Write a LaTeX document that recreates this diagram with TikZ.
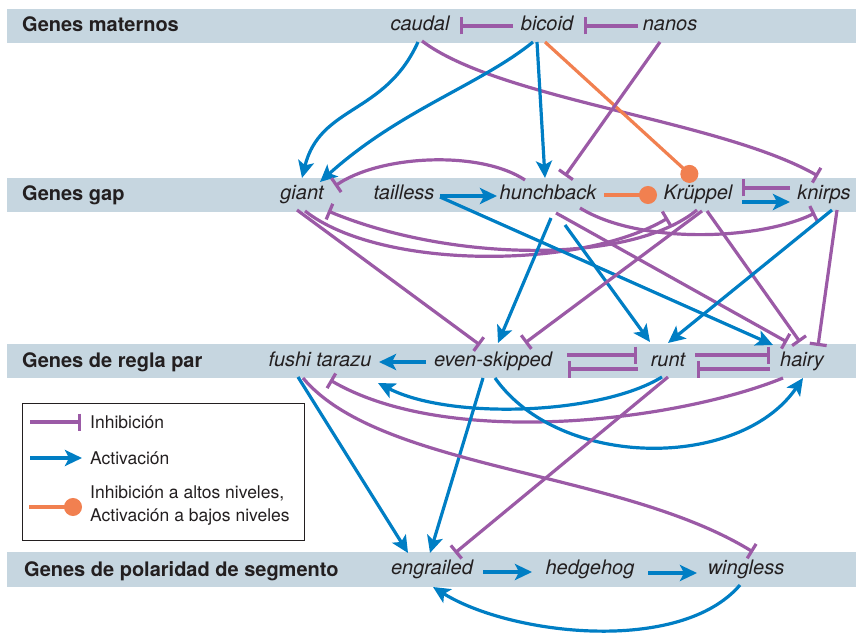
\documentclass[tikz,border=0pt]{standalone}
\usepackage{fontspec}
\setmainfont{TeX Gyre Heros}
\usetikzlibrary{arrows.meta}
\definecolor{inhcol}{RGB}{155,90,166}
\definecolor{actcol}{RGB}{0,126,196}
\definecolor{dualcol}{RGB}{241,128,80}
\definecolor{bandcol}{RGB}{198,214,224}
\definecolor{txtcol}{RGB}{35,31,32}
\begin{document}
\begin{tikzpicture}[x=1pt, y=-1pt,
    gene/.style={font=\fontsize{20}{24}\selectfont\itshape, text=txtcol, text height=14pt, text depth=4pt, inner sep=0pt},
    level/.style={font=\fontsize{20}{24}\selectfont\bfseries, text=txtcol, text height=15pt, text depth=3pt, inner sep=0pt, anchor=west},
    key/.style={font=\fontsize{17.5}{23}\selectfont, text=txtcol, inner sep=0pt, anchor=west, align=left},
    inh/.style={draw=inhcol, line width=3.2pt, -{Bar[width=17pt]}},
    act/.style={draw=actcol, line width=3.2pt, -{Stealth[length=17pt, width=16pt, inset=4pt]}},
    dual/.style={draw=dualcol, line width=3.2pt, -{Circle[length=18pt]}}]
    \useasboundingbox (0,0) rectangle (856,636);

    \fill[bandcol] (7,9) rectangle (856,43);
    \fill[bandcol] (7,178) rectangle (856,212);
    \fill[bandcol] (7,344) rectangle (856,378);
    \fill[bandcol] (7,552) rectangle (856,587);

    \node[level] (lmat) at (22,26) {Genes maternos};
    \node[level] (lgap) at (22,195) {Genes gap};
    \node[level] (lpar) at (22,361) {Genes de regla par};
    \node[level] (lseg) at (24,570) {Genes de polaridad de segmento};

    \node[gene] (cad) at (420,26) {caudal};
    \node[gene] (bcd) at (547,26) {bicoid};
    \node[gene] (nos) at (670,26) {nanos};
    \node[gene] (gt) at (302,195) {giant};
    \node[gene] (tll) at (404,195) {tailless};
    \node[gene] (hb) at (548,195) {hunchback};
    \node[gene] (kr) at (698,195) {Krüppel};
    \node[gene] (kni) at (824,195) {knirps};
    \node[gene] (ftz) at (320,361) {fushi tarazu};
    \node[gene] (eve) at (493,361) {even-skipped};
    \node[gene] (run) at (668,361) {runt};
    \node[gene] (h) at (802,361) {hairy};
    \node[gene] (en) at (432,569) {engrailed};
    \node[gene] (hh) at (590,569) {hedgehog};
    \node[gene] (wg) at (746,569) {wingless};

    \draw[inh] ([shift={(-34,0)}]bcd.center) -- ([shift={(40,0)}]cad.center);
    \draw[inh] ([shift={(-32,0)}]nos.center) -- ([shift={(37,0)}]bcd.center);
    \draw[act] ([shift={(-2,16)}]cad.center) .. controls +(-33,73) and +(18,-73) .. ([shift={(0,-17)}]gt.center);
    \draw[inh] ([shift={(2,15)}]cad.center) .. controls +(78,59) and +(-98,-56) .. ([shift={(-6,-19)}]kni.center);
    \draw[act] ([shift={(-14,16)}]bcd.center) .. controls +(-53,43) and +(80,-72) .. ([shift={(18,-13)}]gt.center);
    \draw[act] ([shift={(-10,16)}]bcd.center) -- ([shift={(-3,-17)}]hb.center);
    \draw[dual] ([shift={(-2,16)}]bcd.center) -- ([shift={(-2,-15)}]kr.center);
    \draw[inh] ([shift={(-10,16)}]nos.center) -- ([shift={(17,-19)}]hb.center);

    \draw[act] ([shift={(36,1)}]tll.center) -- ([shift={(-51,1)}]hb.center);
    \draw[dual] ([shift={(56,0)}]hb.center) -- ([shift={(-41,0)}]kr.center);
    \draw[inh] ([shift={(-34,-7)}]kni.center) -- ([shift={(44,-7)}]kr.center);
    \draw[act] ([shift={(44,7)}]kr.center) -- ([shift={(-34,7)}]kni.center);
    \draw[inh] ([shift={(-23,-15)}]hb.center) .. controls +(-45,-30) and +(45,-31) .. ([shift={(33,-9)}]gt.center);
    \draw[inh] ([shift={(-1,15)}]kr.center) .. controls +(-67,55) and +(122,51) .. ([shift={(26,16)}]gt.center);
    \draw[inh] ([shift={(3,16)}]gt.center) .. controls +(75,59) and +(-88,52) .. ([shift={(-30,23)}]kr.center);
    \draw[inh] ([shift={(32,13)}]hb.center) .. controls +(60,37) and +(-55,27) .. ([shift={(-9,18)}]kni.center);
    \draw[inh] ([shift={(-5,15)}]gt.center) -- ([shift={(-13,-16)}]eve.center);
    \draw[act] ([shift={(3,23)}]hb.center) -- ([shift={(5,-18)}]eve.center);
    \draw[act] ([shift={(17,30)}]hb.center) -- ([shift={(-18,-19)}]run.center);
    \draw[inh] ([shift={(8,18)}]hb.center) -- ([shift={(-15,-19)}]h.center);
    \draw[act] ([shift={(36,2)}]tll.center) -- ([shift={(-29,-16)}]h.center);
    \draw[inh] ([shift={(4,16)}]kr.center) -- ([shift={(32,-18)}]eve.center);
    \draw[inh] ([shift={(9,16)}]kr.center) -- ([shift={(-2,-19)}]h.center);
    \draw[act] ([shift={(8,15)}]kni.center) -- ([shift={(0,-18)}]run.center);
    \draw[inh] ([shift={(13,15)}]kni.center) -- ([shift={(16,-15)}]h.center);

    \draw[act] ([shift={(-67,1)}]eve.center) -- ([shift={(59,1)}]ftz.center);
    \draw[inh] ([shift={(74,-6)}]eve.center) -- ([shift={(-31,-6)}]run.center);
    \draw[inh] ([shift={(-30,8)}]run.center) -- ([shift={(75,8)}]eve.center);
    \draw[inh] ([shift={(27,-6)}]run.center) -- ([shift={(-32,-6)}]h.center);
    \draw[inh] ([shift={(-32,8)}]h.center) -- ([shift={(29,8)}]run.center);
    \draw[act] ([shift={(-6,16)}]run.center) .. controls +(-62,38) and +(72,37) .. ([shift={(58,22)}]ftz.center);
    \draw[inh] ([shift={(-19,17)}]h.center) .. controls +(-103,42) and +(120,70) .. ([shift={(10,19)}]ftz.center);
    \draw[act] ([shift={(2,17)}]eve.center) .. controls +(65,92) and +(-63,92) .. ([shift={(1,17)}]h.center);
    \draw[act] ([shift={(-10,17)}]eve.center) -- ([shift={(-2,-16)}]en.center);
    \draw[act] ([shift={(-22,16)}]ftz.center) -- ([shift={(-24,-16)}]en.center);
    \draw[inh] ([shift={(0,16)}]run.center) -- ([shift={(23,-16)}]en.center);
    \draw[inh] ([shift={(-17,17)}]ftz.center) .. controls +(77,92) and +(-133,-82) .. ([shift={(7,-17)}]wg.center);

    \draw[act] ([shift={(51,3)}]en.center) -- ([shift={(-58,3)}]hh.center);
    \draw[act] ([shift={(58,4)}]hh.center) -- ([shift={(-49,4)}]wg.center);
    \draw[act] ([shift={(-6,16)}]wg.center) .. controls +(-60,70) and +(77,48) .. ([shift={(1,18)}]en.center);

    \draw[txtcol, line width=1pt] (22,403) rectangle (304,540);
    \node[key] (kinh) at (90,422) {Inhibición};
    \node[key] (kact) at (90,458) {Activación};
    \node[key] (kdual) at (90,506) {Inhibición a altos niveles,\\Activación a bajos niveles};
    \draw[inh] ([xshift=-60pt]kinh.west) -- ([xshift=-9pt]kinh.west);
    \draw[act] ([xshift=-60pt]kact.west) -- ([xshift=-8pt]kact.west);
    \draw[dual] ([shift={(-61,1)}]kdual.west) -- ([shift={(-8,1)}]kdual.west);
\end{tikzpicture}
\end{document}
